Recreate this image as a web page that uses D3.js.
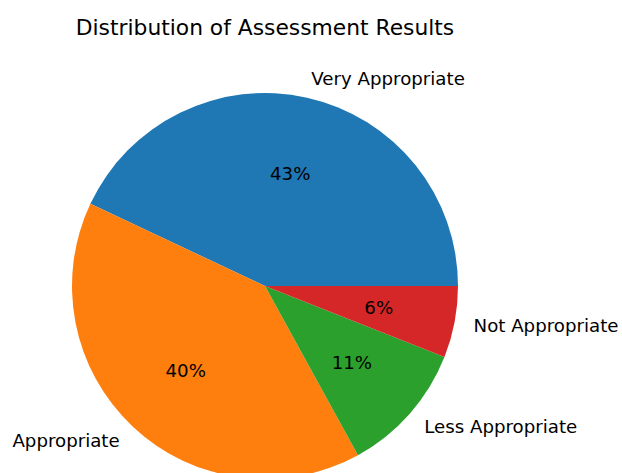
<!DOCTYPE html>
<html>
<head>
<meta charset="utf-8">
<script src="https://cdn.jsdelivr.net/npm/d3@7"></script>
<style>
  body { margin: 0; background: #fff; }
  text { font-family: "DejaVu Sans", sans-serif; fill: #000; }
</style>
</head>
<body>
<div id="chart"></div>
<script>
// data
var categories = ["Very Appropriate", "Appropriate", "Less Appropriate", "Not Appropriate"];
var shares = [43, 40, 11, 6];
var colors = ["#1f77b4", "#ff7f0e", "#2ca02c", "#d62728"];

var width = 622, height = 473;
var cx = 265, cy = 286, radius = 193;

var svg = d3.select("#chart")
    .append("svg")
    .attr("width", width)
    .attr("height", height);

svg.append("text")
    .attr("x", cx)
    .attr("y", 27)
    .attr("text-anchor", "middle")
    .attr("dominant-baseline", "central")
    .style("font-size", "21.8px")
    .text("Distribution of Assessment Results");

var g = svg.append("g")
    .attr("transform", "translate(" + cx + "," + cy + ")");

// matplotlib style: start at 3 o'clock, go counterclockwise
var pie = d3.pie()
    .sort(null)
    .value(function (d) { return d; })
    .startAngle(Math.PI / 2)
    .endAngle(Math.PI / 2 - 2 * Math.PI);

var arcs = pie(shares);

var arc = d3.arc().innerRadius(0).outerRadius(radius);

g.selectAll("path")
    .data(arcs)
    .enter()
    .append("path")
    .attr("d", arc)
    .attr("fill", function (d, i) { return colors[i]; });

function mid(d) { return (d.startAngle + d.endAngle) / 2; }

// category labels at 1.1 r
g.selectAll(".lbl")
    .data(arcs)
    .enter()
    .append("text")
    .attr("class", "lbl")
    .attr("x", function (d) { return Math.sin(mid(d)) * radius * 1.1; })
    .attr("y", function (d) { return -Math.cos(mid(d)) * radius * 1.1; })
    .attr("text-anchor", function (d) { return Math.sin(mid(d)) > 0 ? "start" : "end"; })
    .attr("dominant-baseline", "central")
    .style("font-size", "18.2px")
    .text(function (d, i) { return categories[i]; });

// percentages at 0.6 r
g.selectAll(".pct")
    .data(arcs)
    .enter()
    .append("text")
    .attr("class", "pct")
    .attr("x", function (d) { return Math.sin(mid(d)) * radius * 0.6; })
    .attr("y", function (d) { return -Math.cos(mid(d)) * radius * 0.6; })
    .attr("text-anchor", "middle")
    .attr("dominant-baseline", "central")
    .style("font-size", "18.2px")
    .text(function (d) { return d3.format(".0f")(d.value) + "%"; });
</script>
</body>
</html>
